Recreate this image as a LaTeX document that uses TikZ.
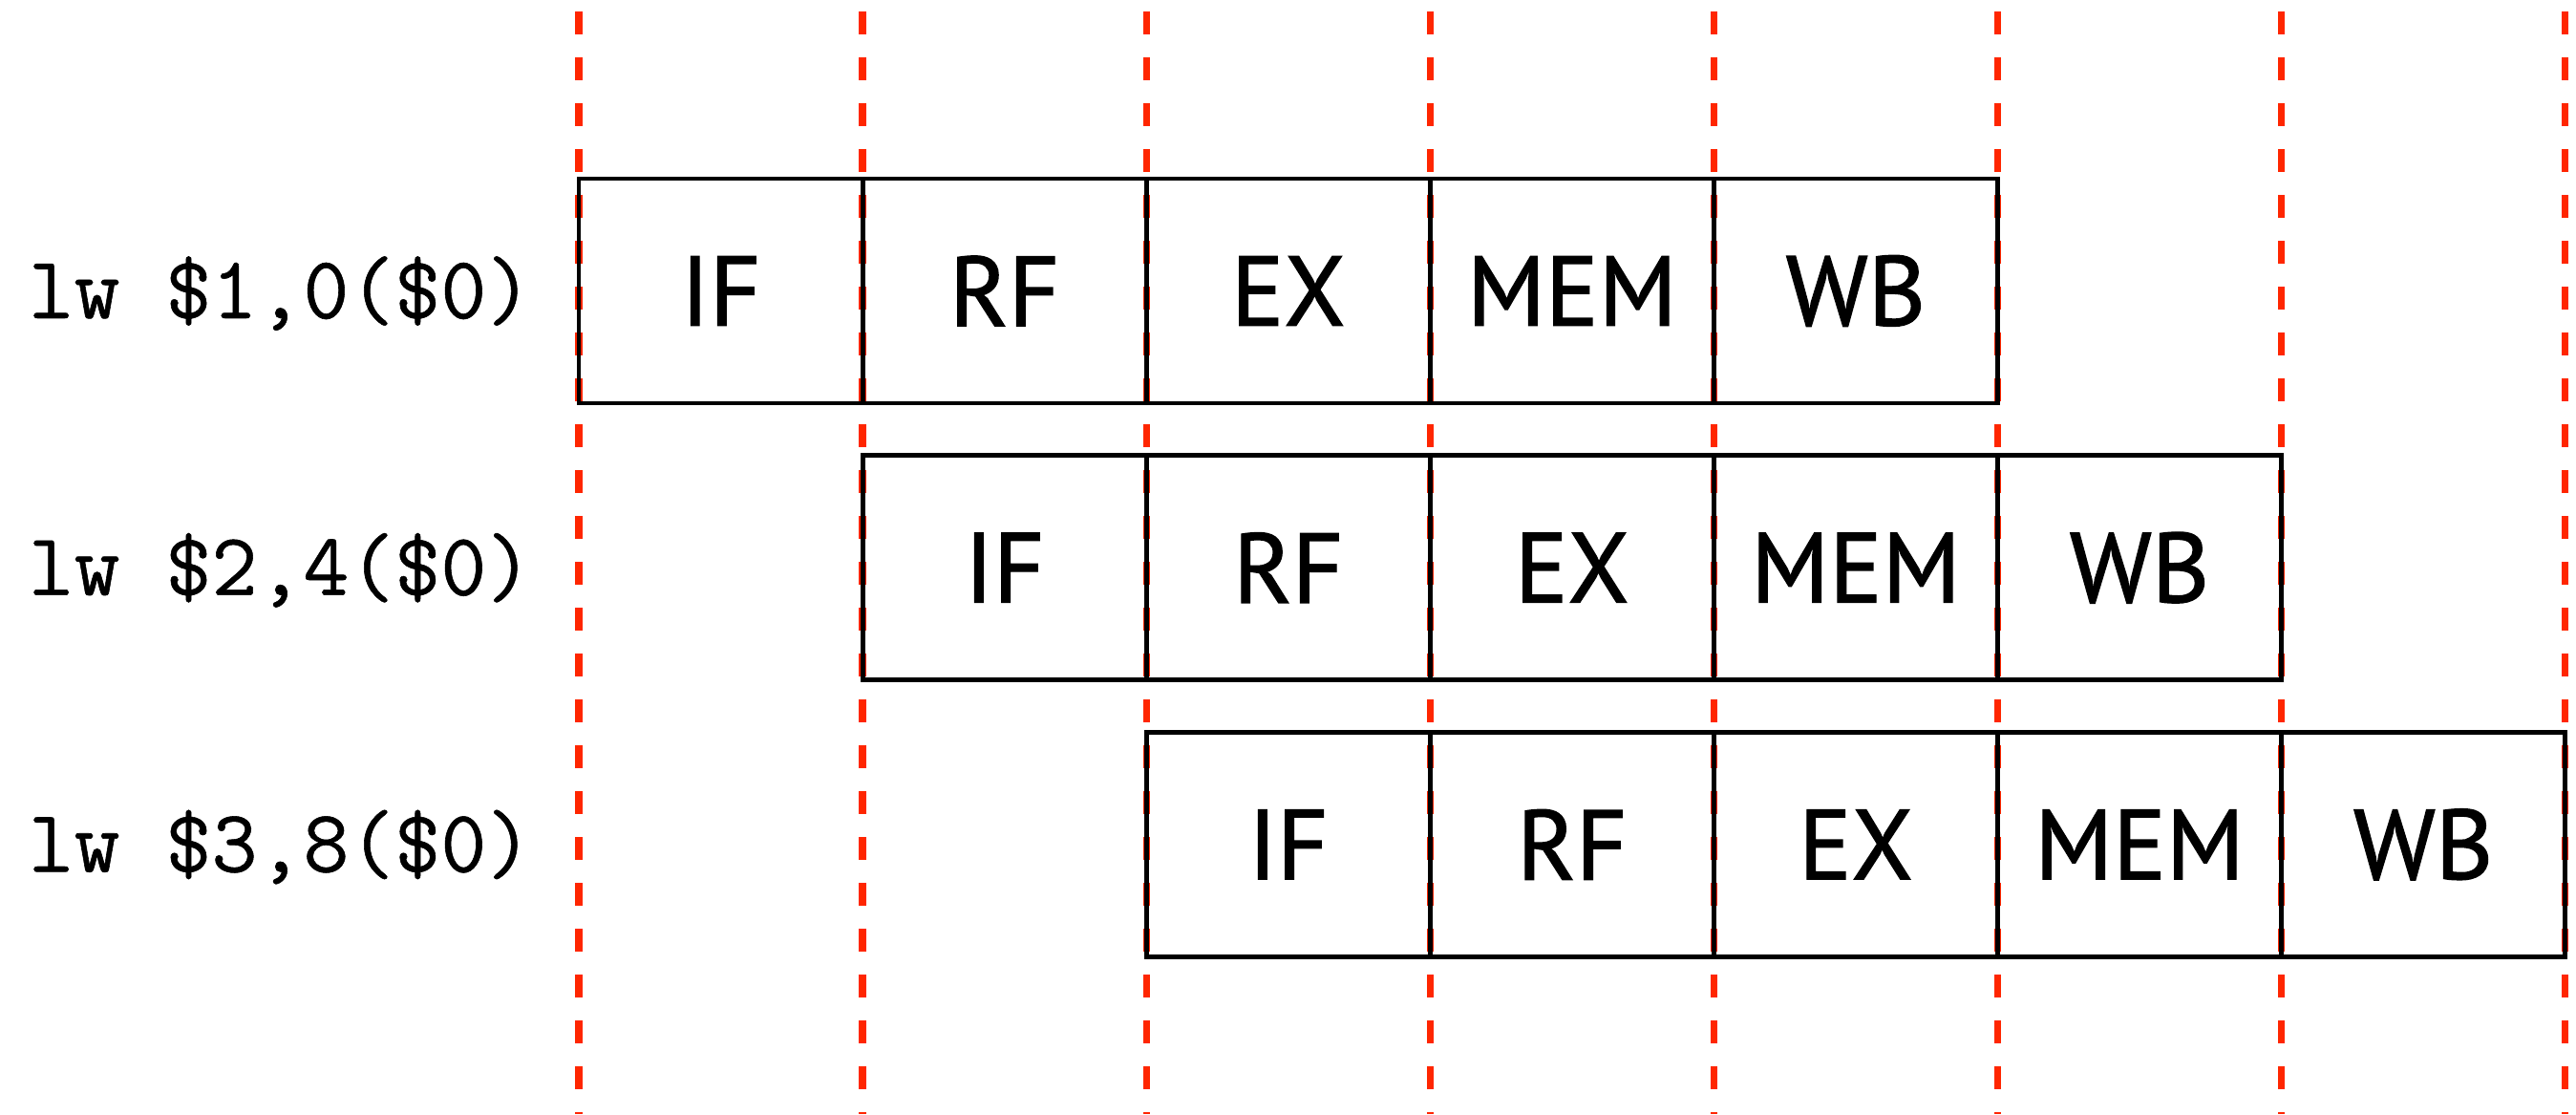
\documentclass[tikz,border=0pt]{standalone}
\usepackage{fontspec}
\usepackage{tikz}
\newfontfamily\stagefont[FakeBold=1.3]{PT Sans}
\newfontfamily\instrfont[FakeBold=0.6]{Latin Modern Mono}
\definecolor{cycred}{RGB}{255,38,0}
\tikzset{
  stagebox/.style={draw,line width=1.35pt,minimum width=2.97cm,minimum height=2.35cm,inner sep=0pt,font=\stagefont\fontsize{29.5}{31}\selectfont},
  instr/.style={anchor=base east,inner sep=0pt,font=\instrfont\fontsize{26.5}{28}\selectfont},
  cyc/.style={draw=cycred,line width=2.1pt,dash pattern=on 0.24cm off 0.24cm}
}
\newcommand{\cw}{2.971}

\begin{document}
\begin{tikzpicture}
\useasboundingbox (0,0) rectangle (26.97,11.66);
\foreach \k in {0,...,7} {
  \coordinate (top\k) at (6.06+\k*\cw,11.54); \coordinate (bot\k) at (6.06+\k*\cw,0);
  \draw[cyc] (top\k) -- (bot\k);
}
\foreach \txt [count=\ri from 0] in {{lw \$1,0(\$0)},{lw \$2,4(\$0)},{lw \$3,8(\$0)}} {
  \node[instr] (ins\ri) at (5.58,8.615-\ri*2.897-0.285) {\txt};
  \foreach \stg [count=\si from 0] in {IF,RF,EX,MEM,WB}
    \node[stagebox] (r\ri\stg) at (6.06+\ri*\cw+\si*\cw+\cw/2,8.615-\ri*2.897) {\stg};
}
\end{tikzpicture}
\end{document}
